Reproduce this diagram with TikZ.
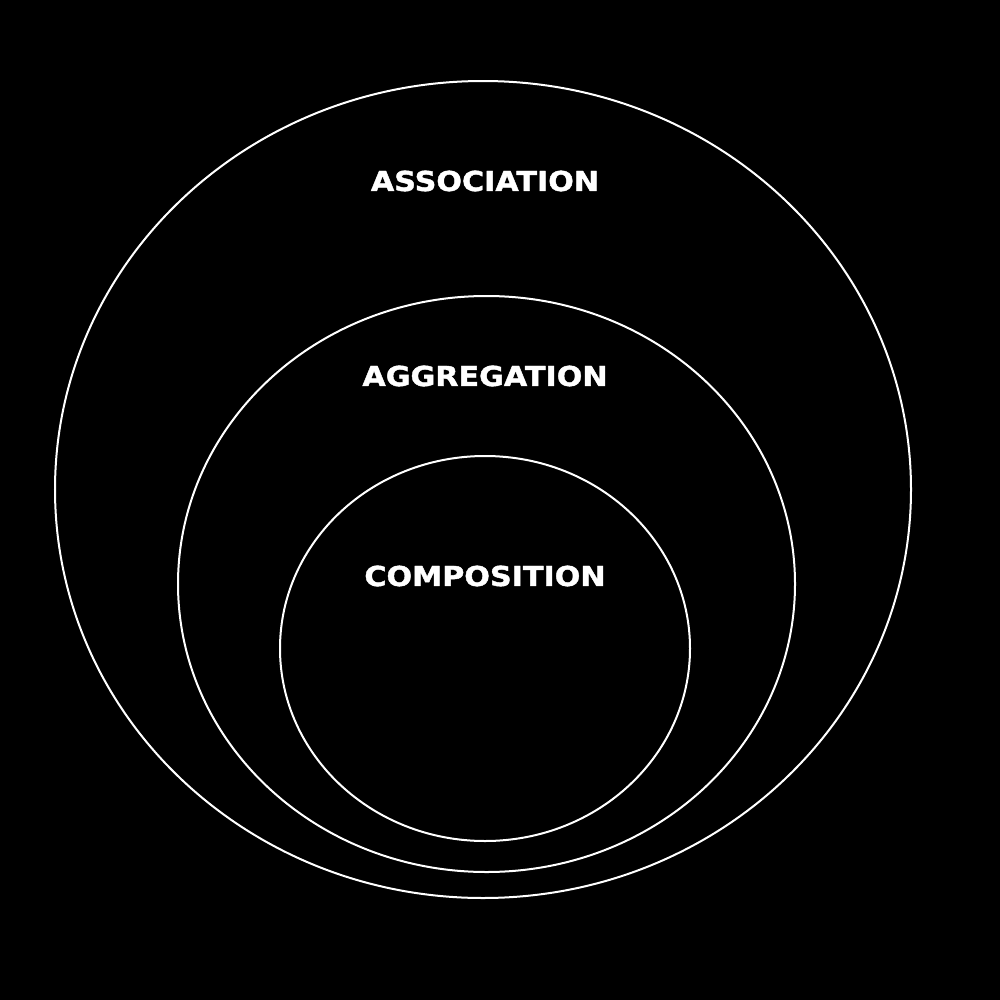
\documentclass[tikz,border=0pt]{standalone}
\usepackage{fontspec}
\newfontfamily\lblfont[FakeStretch=1.1,FakeBold=1.5]{DejaVu Sans}
\begin{document}
\begin{tikzpicture}[x=0.01cm,y=-0.01cm,
  ring/.style={draw=white,line width=0.02cm},
  lbl/.style={text=white,font=\lblfont\bfseries\fontsize{7.8pt}{9pt}\selectfont,inner sep=0pt,anchor=center}]
\fill[black] (0,0) rectangle (1000,1000);
\useasboundingbox (0,0) rectangle (1000,1000);
\draw[ring] (483,489.5) ellipse [x radius=428, y radius=408.5];
\draw[ring] (486.5,584) ellipse [x radius=308.5, y radius=288];
\draw[ring] (485,648.5) ellipse [x radius=205, y radius=192.5];
\node[lbl] (assoc) at (485,181) {ASSOCIATION};
\node[lbl] (aggr) at (485,376) {AGGREGATION};
\node[lbl] (comp) at (485,576) {COMPOSITION};
\end{tikzpicture}
\end{document}
